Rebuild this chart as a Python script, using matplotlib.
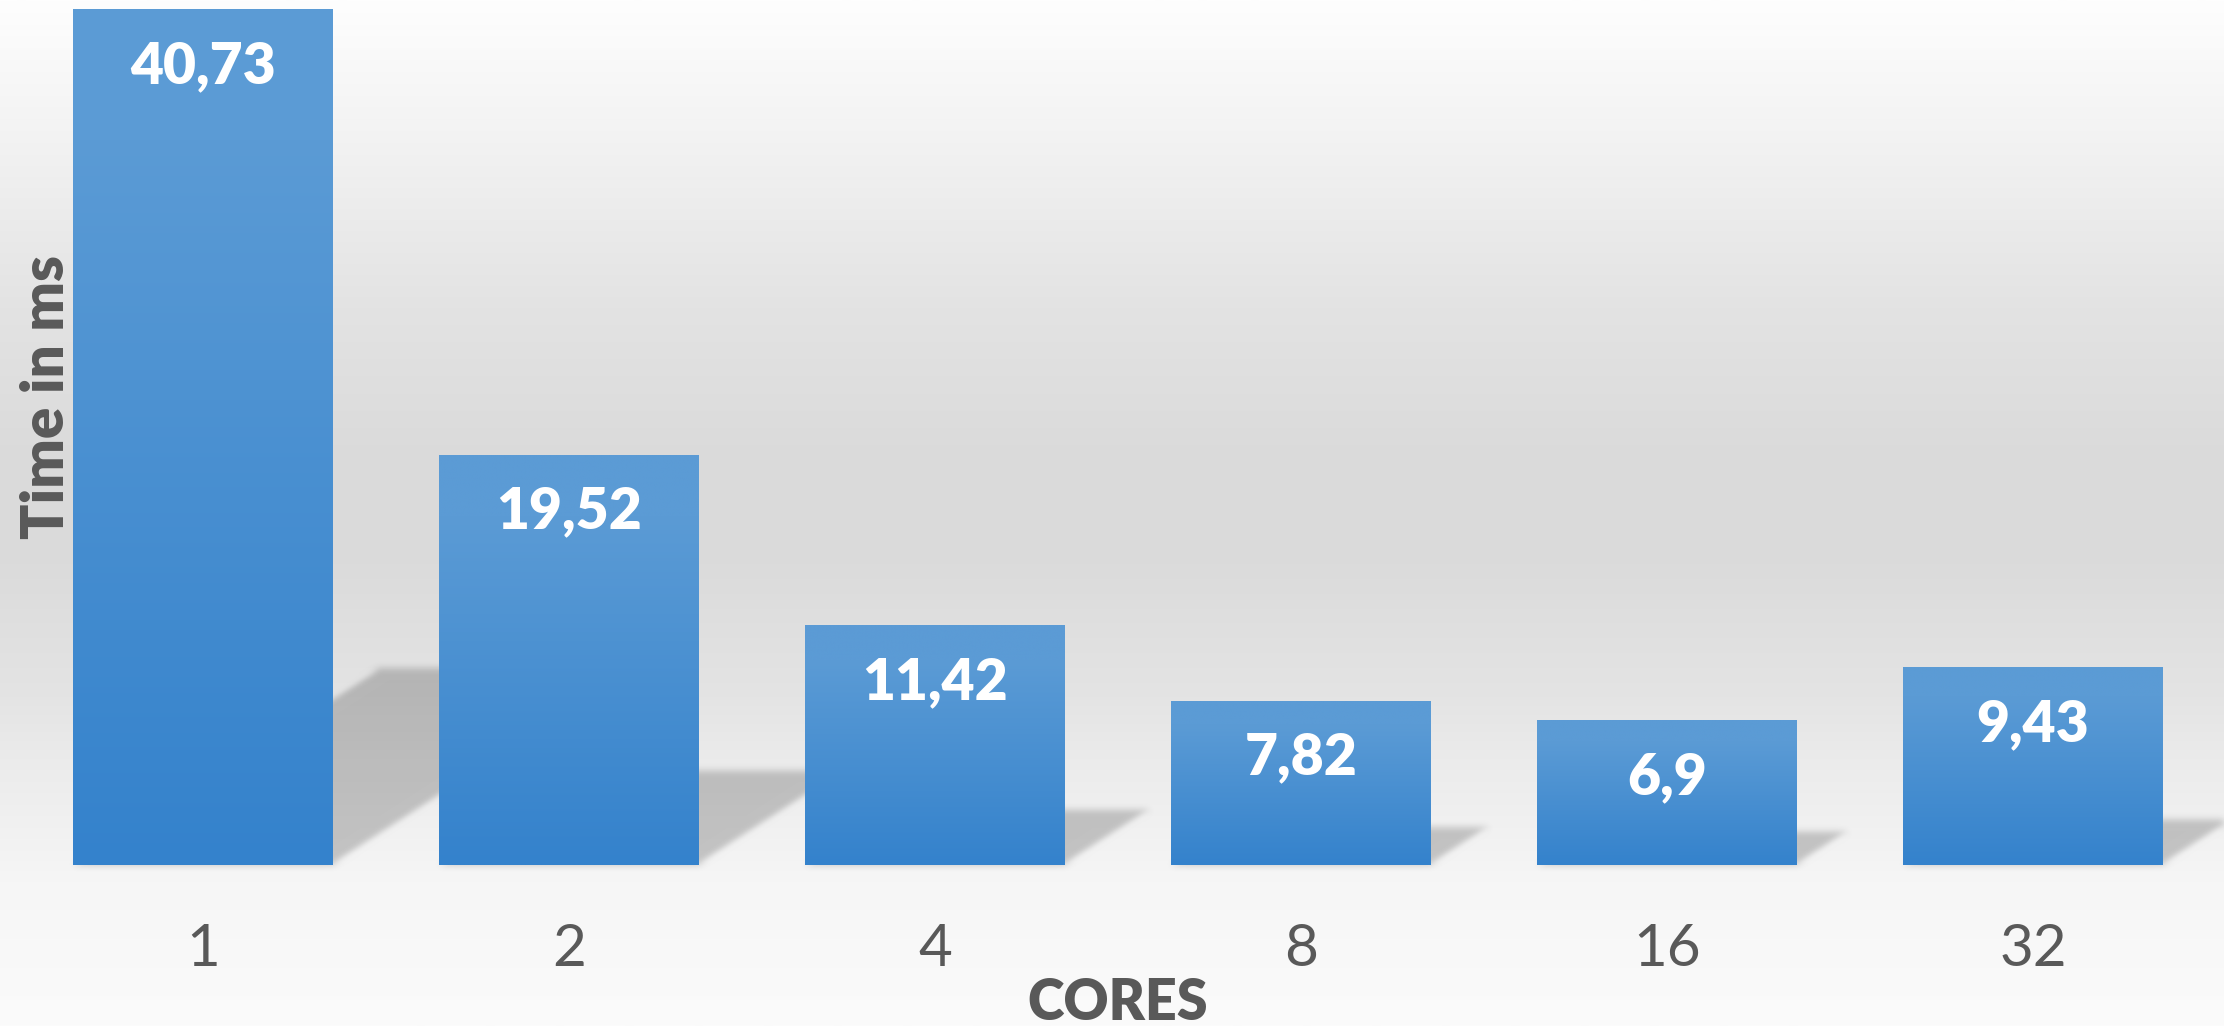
import matplotlib

matplotlib.use("Agg")
import matplotlib.pyplot as plt
import numpy as np
from matplotlib.colors import LinearSegmentedColormap
from matplotlib.patches import Polygon

cores = ["1", "2", "4", "8", "16", "32"]
times_ms = [40.73, 19.52, 11.42, 7.82, 6.9, 9.43]

TEXT_GREY = "#595959"
BAR_TOP = "#5B9BD5"
BAR_BOTTOM = "#3482CC"


def gaussian_blur(sigma):
    # agg_filter: soften an artist's rendered pixels with a separable gaussian
    def _filter(image, dpi):
        pad = int(np.ceil(3 * sigma))
        src = np.pad(image, ((pad, pad), (pad, pad), (0, 0)))
        offsets = np.arange(-pad, pad + 1)
        kernel = np.exp(-0.5 * (offsets / sigma) ** 2)
        kernel /= kernel.sum()
        tmp = np.zeros_like(src)
        for k, d in zip(kernel, offsets):
            tmp += k * np.roll(src, d, axis=0)
        out = np.zeros_like(src)
        for k, d in zip(kernel, offsets):
            out += k * np.roll(tmp, d, axis=1)
        return out, -pad, -pad

    return _filter


def draw_background(fig):
    bg = fig.add_axes([0, 0, 1, 1], zorder=-10)
    stops = np.array([0.0, 0.15, 0.30, 0.45, 0.55, 0.68, 0.74, 0.83, 0.86, 1.0])
    greys = np.array([254, 241, 227, 218, 219, 228, 235, 243, 246, 251]) / 255
    rows = np.interp(np.linspace(0, 1, 512), stops, greys)
    img = np.repeat(rows[:, None], 3, axis=1)[:, None, :]
    bg.imshow(img, aspect="auto", extent=(0, 1, 0, 1), interpolation="bilinear")
    bg.set_axis_off()


def main():
    plt.rcParams["font.family"] = ["Lato", "DejaVu Sans"]
    fig = plt.figure(figsize=(22.24, 10.26), dpi=100)
    draw_background(fig)

    W, H = 2224, 1026
    ax = fig.add_axes([20 / W, 1 - 865 / H, 2196 / W, 865 / H])
    ax.set_facecolor("none")
    x = np.arange(len(cores))
    ax.set_xlim(-0.5, len(cores) - 0.5)
    ax.set_ylim(0, 41.15)

    bars = ax.bar(x, times_ms, width=0.71, color="none", zorder=3)

    # floor shadows: each bar sheared back and to the right
    shear_x, shear_y = 0.0205, 0.23
    for rect, value in zip(bars, times_ms):
        x0, w = rect.get_x(), rect.get_width()
        dx, dy = value * shear_x, value * shear_y
        shadow = Polygon(
            [(x0, 0), (x0 + w, 0), (x0 + w + dx, dy), (x0 + dx, dy)],
            closed=True,
            facecolor="black",
            alpha=0.2,
            edgecolor="none",
            zorder=1,
            clip_on=False,
        )
        shadow.set_agg_filter(gaussian_blur(3.5))
        ax.add_patch(shadow)

    cmap = LinearSegmentedColormap.from_list(
        "bar_fill", [(0.0, BAR_BOTTOM), (0.85, BAR_TOP), (1.0, BAR_TOP)]
    )
    grad = np.linspace(0, 1, 256)[:, None]
    for rect, value in zip(bars, times_ms):
        x0, w = rect.get_x(), rect.get_width()
        im = ax.imshow(
            grad,
            cmap=cmap,
            origin="lower",
            extent=(x0, x0 + w, 0, value),
            aspect="auto",
            zorder=2,
            interpolation="bilinear",
        )
        im.set_clip_path(rect)

    for xi, value in zip(x, times_ms):
        ax.annotate(
            f"{value:g}".replace(".", ","),
            xy=(xi, value),
            xytext=(0, -74),
            textcoords="offset pixels",
            ha="center",
            va="baseline",
            color="white",
            fontsize=41,
            fontweight="heavy",
            zorder=5,
        )

    ax.set_xticks(x, cores)
    ax.tick_params(axis="x", length=0, pad=42, labelsize=42, labelcolor=TEXT_GREY)
    ax.set_yticks([])
    for spine in ax.spines.values():
        spine.set_visible(False)

    fig.text(
        1118 / W, 1 - 1020 / H, "CORES",
        ha="center", va="baseline", fontsize=40, fontweight="heavy", color=TEXT_GREY,
    )
    fig.text(
        64 / W, 1 - 397 / H, "Time in ms",
        rotation=90, rotation_mode="anchor", ha="center", va="baseline",
        fontsize=42, fontweight="heavy", color=TEXT_GREY,
    )

    fig.savefig("out.png", dpi=100)


if __name__ == "__main__":
    main()
